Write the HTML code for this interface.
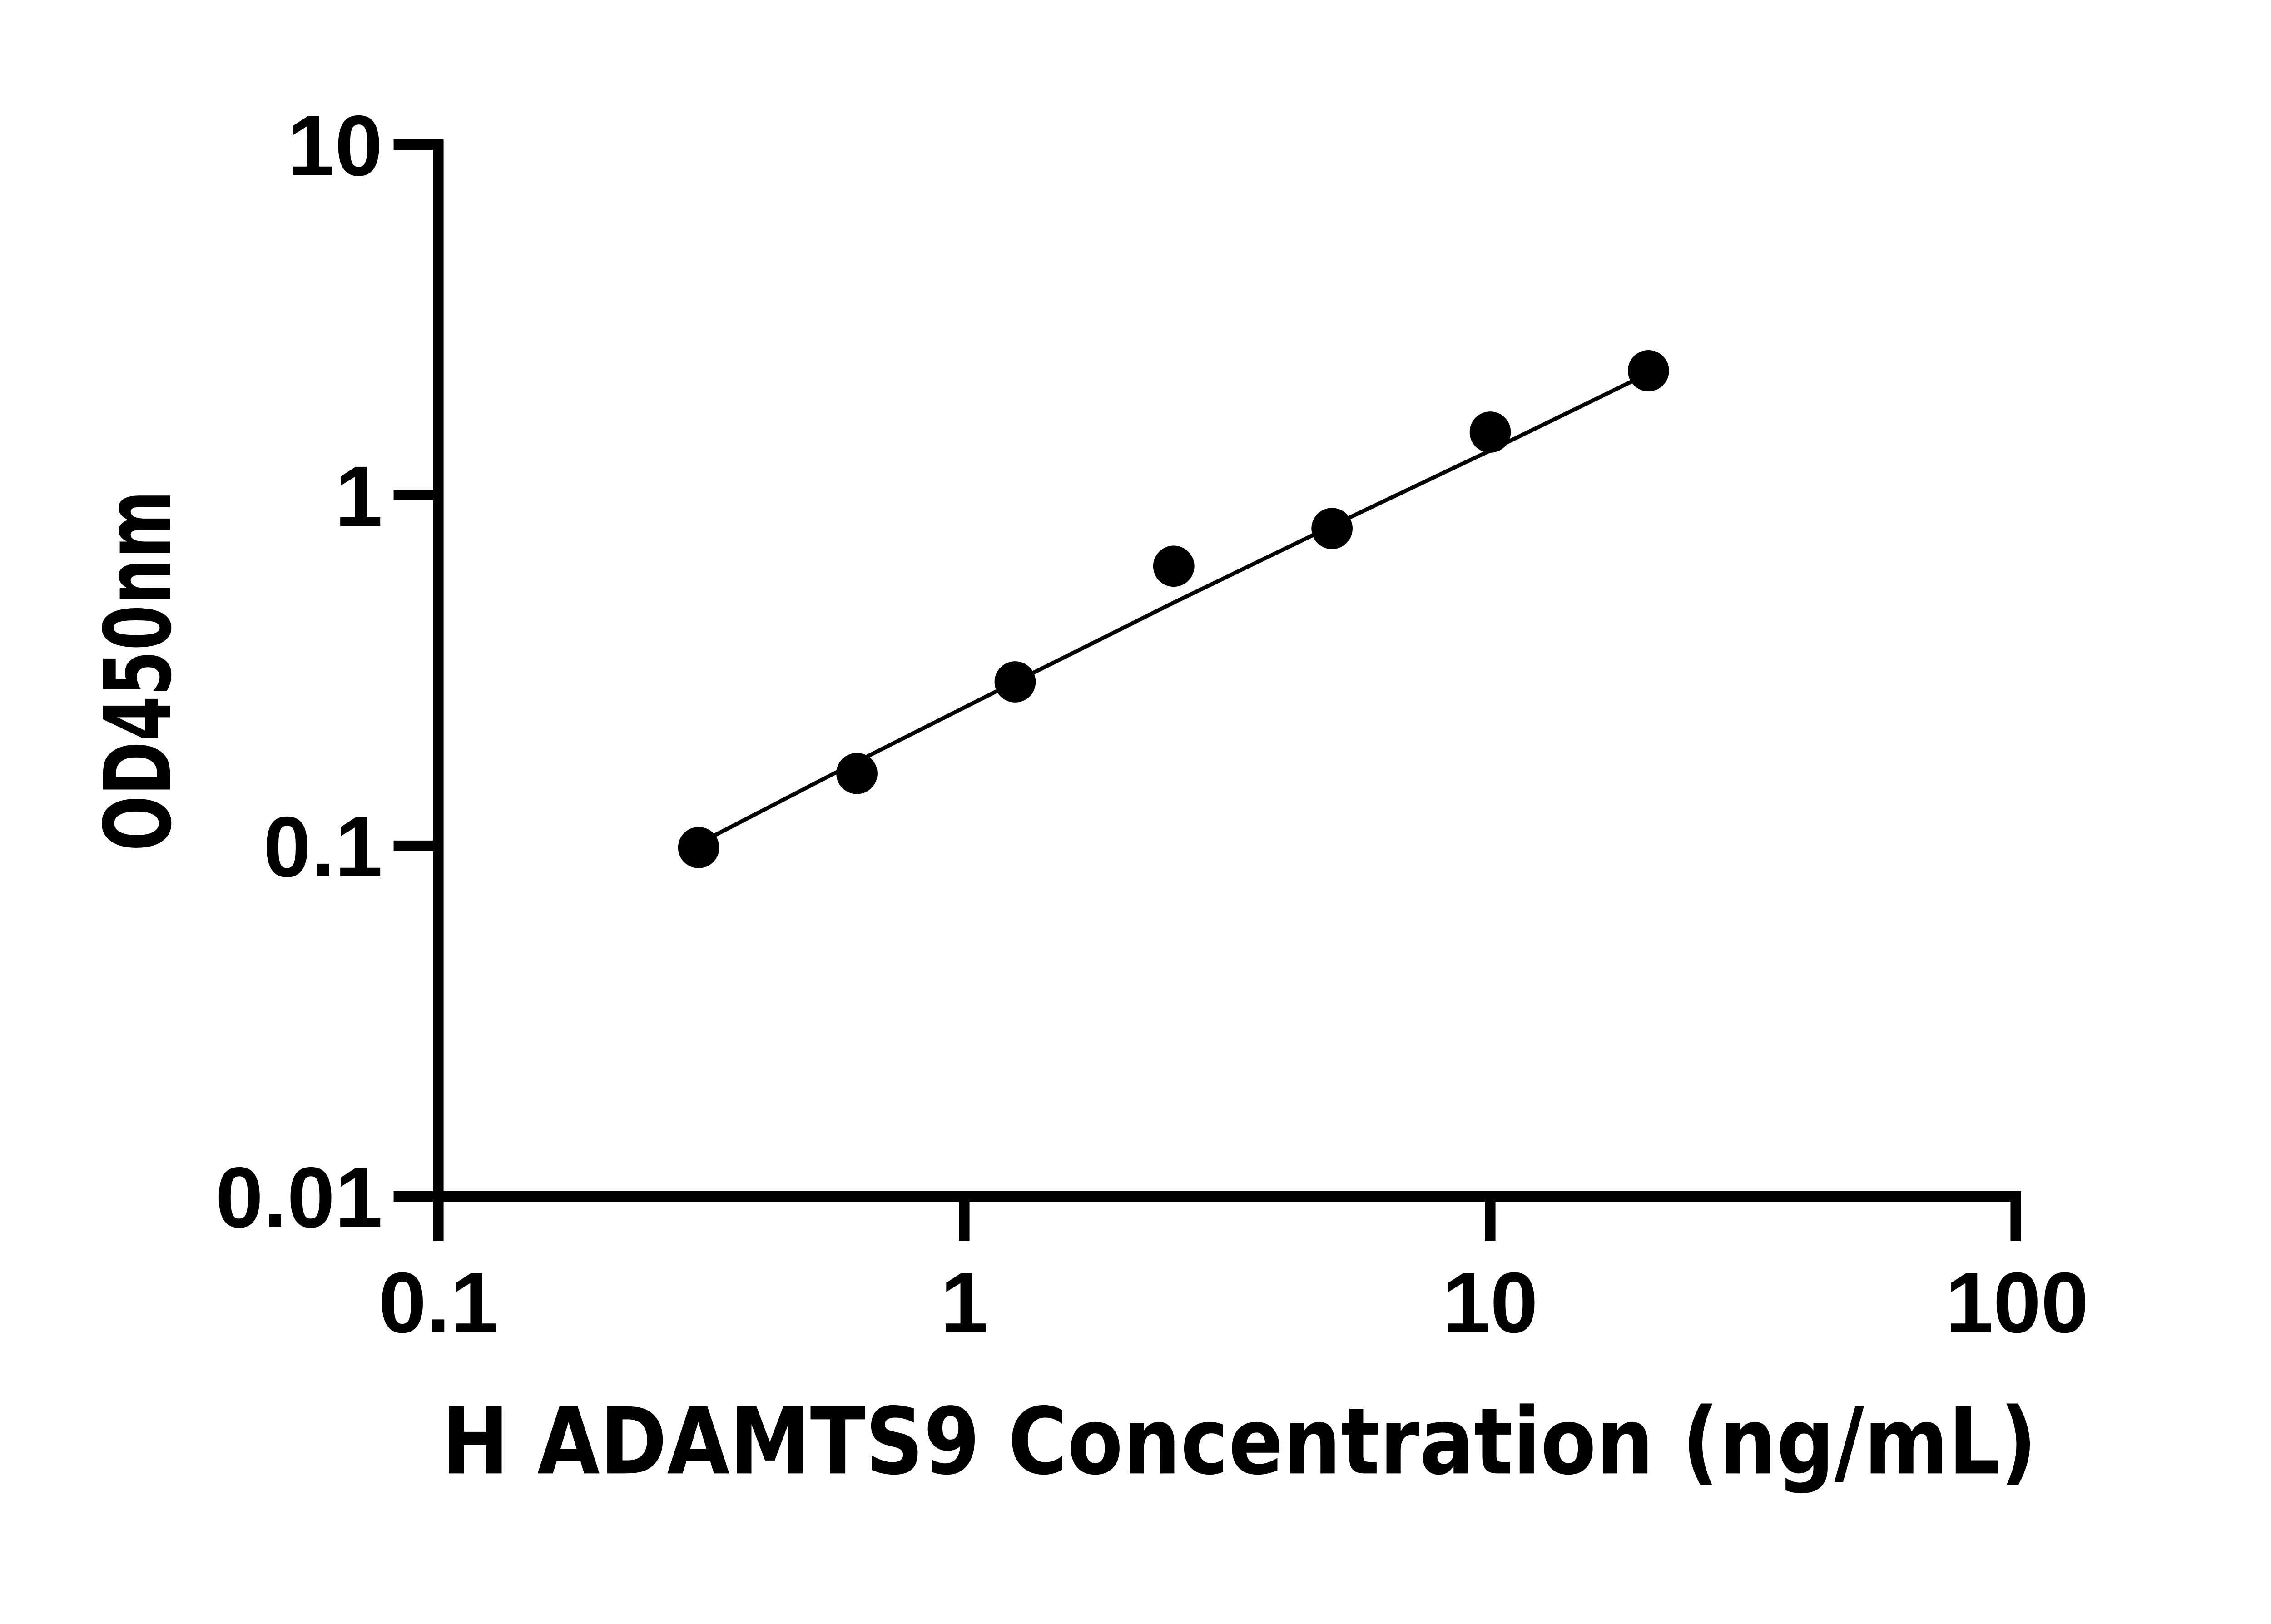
<!DOCTYPE html>
<html><head><meta charset="utf-8"><style>html,body{margin:0;padding:0;background:#fff}svg{display:block}</style></head>
<body>
<svg width="5170" height="3576" viewBox="0 0 5170 3576" xmlns="http://www.w3.org/2000/svg">
<rect width="5170" height="3576" fill="#fff"/>
<g transform="scale(0.965)">
<g stroke="#000" stroke-width="24" fill="none" stroke-linecap="butt">
<line x1="1000" y1="318" x2="1000" y2="2742"/>
<line x1="988" y1="2730" x2="4611" y2="2730"/>
<line x1="4599" y1="2730" x2="4599" y2="2832"/>
<line x1="898" y1="330" x2="1000" y2="330"/>
<line x1="898" y1="1130" x2="1000" y2="1130"/>
<line x1="898" y1="1930" x2="1000" y2="1930"/>
<line x1="898" y1="2730" x2="1000" y2="2730"/>
<line x1="1000" y1="2730" x2="1000" y2="2832"/>
<line x1="2200" y1="2730" x2="2200" y2="2832"/>
<line x1="3400" y1="2730" x2="3400" y2="2832"/>
</g>
<g font-family="Liberation Sans, Arial, sans-serif" font-weight="bold" font-size="196" fill="#000">
<text x="873" y="400" text-anchor="end">10</text>
<text x="873" y="1200" text-anchor="end">1</text>
<text x="873" y="2000" text-anchor="end">0.1</text>
<text x="873" y="2800" text-anchor="end">0.01</text>
<text x="1000" y="3040" text-anchor="middle">0.1</text>
<text x="2200" y="3040" text-anchor="middle">1</text>
<text x="3400" y="3040" text-anchor="middle">10</text>
<text x="4602" y="3040" text-anchor="middle">100</text>
</g>
<polyline fill="none" stroke="#000" stroke-width="9" stroke-linejoin="round" points="1594,1925 1955,1738 2316,1556 2678,1375 3039,1200 3400,1028 3761,852"/>
<g fill="#000">
<circle cx="1594" cy="1934" r="47"/>
<circle cx="1955" cy="1765" r="47"/>
<circle cx="2316" cy="1556" r="47"/>
<circle cx="2678" cy="1292" r="47"/>
<circle cx="3039" cy="1206" r="47"/>
<circle cx="3400" cy="986" r="47"/>
<circle cx="3761" cy="846" r="47"/>
</g>
<text x="1007" y="3362" font-family="DejaVu Sans, Liberation Sans, sans-serif" font-weight="bold" font-size="210" textLength="3640" lengthAdjust="spacingAndGlyphs" fill="#000">H ADAMTS9 Concentration (ng/mL)</text>
<text transform="translate(388,1942) rotate(-90)" x="0" y="0" font-family="DejaVu Sans, Liberation Sans, sans-serif" font-weight="bold" font-size="210" textLength="823" lengthAdjust="spacingAndGlyphs" fill="#000">OD450nm</text>
</g>
</svg>
</body></html>
